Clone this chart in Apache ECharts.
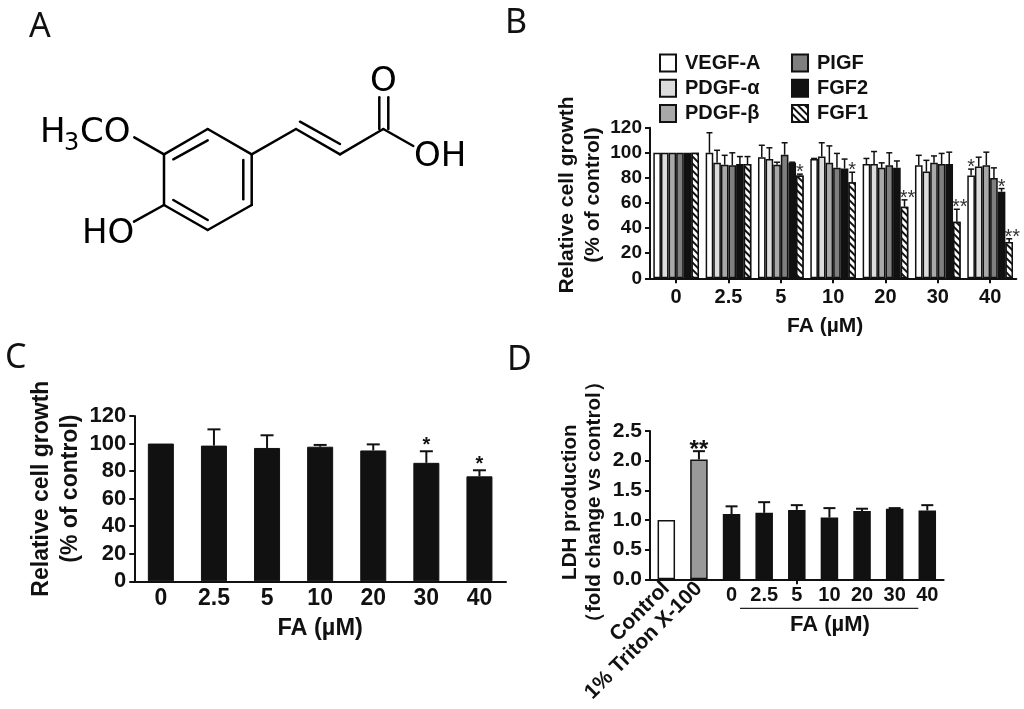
<!DOCTYPE html>
<html>
<head>
<meta charset="utf-8">
<title>FA</title>
<script src="https://cdn.jsdelivr.net/npm/echarts@6/dist/echarts.min.js"></script>
<style>
html,body{margin:0;padding:0;background:#fff}
#main{width:1024px;height:709px}
</style>
</head>
<body>
<div id="main"></div>
<script>
var doses=['0','2.5','5','10','20','30','40'];

// panel B
var bNames=['VEGF-A','PDGF-α','PDGF-β','PIGF','FGF2','FGF1'];
var bVegf=[100,100,96.5,95,91,90,82];
var bVegfErr=[null,116,106,95.5,95.5,98,87];
var bVegfStar=['','','','','','','*'];
var bPdgfa=[100,92,95,97,91,85,89];
var bPdgfaErr=[null,102,104,108,101,94,96.5];
var bPdgfb=[100,90.5,90.5,92,88,92,90];
var bPdgfbErr=[null,98,92.5,105.5,92,97.5,100.5];
var bPigf=[100,90,98.5,88,90,91,80];
var bPigfErr=[null,100,108,99.5,100,99.5,88];
var bFgf2=[100,91,92,87.5,88,91,69];
var bFgf2Err=[null,97,92.5,95,93.5,100.5,71.5];
var bFgf2Star=['','','','','','','*'];
var bFgf1=[100,91,82,76.5,57,45,29];
var bFgf1Err=[null,97,83,84.5,62.5,55,31.5];
var bFgf1Star=['','','*','*','**','**','**'];

// panel C
var cVals=[100,98.5,96.8,97.7,95,86,76.2];
var cErr=[null,110.3,106,99,99.4,94.4,80.6];
var cStar=['','','','','','*','*'];

// panel D
var dCats=['Control','1% Triton X-100'];
var dVals=[1,2.02,1.1,1.12,1.17,1.04,1.15,1.19,1.16];
var dErr=[null,2.16,1.23,1.3,1.25,1.2,1.19,1.2,1.25];
var dStar=['','**','','','','','','',''];

// panel A, ferulic acid
var bonds=[
  [207.7,129,251.7,154.3],[251.7,154.3,251.7,205],[251.7,205,207.7,230],
  [207.7,230,164,205],[164,205,164,154.3],[164,154.3,207.7,129],
  [173.3,159.3,207.7,140.3],[243.3,160,243.3,199.3],[173.3,200,207.7,220],
  [251.7,154.3,296,129],[296,129,340,154.3],[340,154.3,383.3,129],[300,121.7,340,144],
  [379.3,129,379.3,97.3],[388.3,129,388.3,97.3],[383.3,129,413.3,146],
  [164,154.3,134.3,137.3],[164,205,134,221.7]
];
var atoms=[
  ['O',370,99,34],['OH',414,174,34],['H',40,150,34],['3',64,156,24],['CO',80,150,34],['HO',82,251,34]
];
var letters=[['A',29,44],['B',505,40],['C',5,375],['D',507,377]];

var black='#111';
var sansBold='"Liberation Sans",Arial,sans-serif';

function axisBase(gridIndex,fs){
  return {
    gridIndex:gridIndex,
    axisLine:{show:true,lineStyle:{color:black,width:2}},
    axisTick:{show:true,length:5,lineStyle:{color:black,width:2}},
    axisLabel:{color:black,fontFamily:sansBold,fontWeight:'bold',fontSize:fs},
    splitLine:{show:false},
    nameTextStyle:{color:black,fontFamily:sansBold,fontWeight:'bold'}
  };
}
function yAxisOf(gridIndex,fs,max,step,name,nfs,gap,lh,shift,fmt){
  var a=axisBase(gridIndex,fs);
  a.type='value';a.min=0;a.max=max;a.interval=step;
  a.axisLabel.margin=8;
  if(fmt)a.axisLabel.formatter=fmt;
  a.name=name;a.nameLocation='middle';a.nameGap=gap;a.nameRotate=90;
  a.nameTextStyle.fontSize=nfs;a.nameTextStyle.lineHeight=lh;a.nameTextStyle.padding=[0,0,0,shift];
  return a;
}
function xAxisOf(gridIndex,cats,fs,margin,tick,name,nfs,gap,shift){
  var a=axisBase(gridIndex,fs);
  a.type='category';a.data=cats;a.position='bottom';
  a.axisLabel.margin=margin;a.axisLabel.interval=0;
  a.axisTick.show=tick;a.axisTick.alignWithLabel=true;
  if(name){
    a.name=name;a.nameLocation='middle';a.nameGap=gap;
    a.nameTextStyle.fontSize=nfs;a.nameTextStyle.padding=[0,shift,0,0];
  }
  return a;
}
// upper error bar + asterisks, offset is in fractions of the band
function errSeries(ax,ay,means,tops,stars,o){
  var data=[];
  for(var i=0;i<means.length;i++)data.push([i,means[i],tops[i]]);
  return {
    type:'custom',xAxisIndex:ax,yAxisIndex:ay,data:data,z:1,
    silent:true,
    encode:{x:0,y:1},
    renderItem:function(params,api){
      var idx=api.value(0),top=api.value(2),mean=api.value(1);
      var band=api.size([1,0])[0];
      var ch=[];
      var base=api.coord([idx,mean]);
      var x=base[0]+(o.offset||0)*band;
      var yTop=base[1];
      if(!isNaN(top)&&top!==null){
        yTop=api.coord([idx,top])[1];
        ch.push({type:'line',shape:{x1:x,y1:base[1],x2:x,y2:yTop},style:{stroke:black,lineWidth:o.lw}});
        ch.push({type:'line',shape:{x1:x-o.cap,y1:yTop,x2:x+o.cap,y2:yTop},style:{stroke:black,lineWidth:o.lw}});
      }
      var s=stars&&stars[params.dataIndex];
      if(s){
        ch.push({type:'text',style:{x:x+(s.length>1?o.dbl:0),y:yTop-o.starUp,text:s,fill:o.starColor,
          font:o.starFont,align:'center',verticalAlign:'middle'}});
      }
      return {type:'group',children:ch};
    }
  };
}

var bColors=['#fff','#dcdcdc','#a9a9a9','#7f7f7f',black,'#fff'];
var bData=[bVegf,bPdgfa,bPdgfb,bPigf,bFgf2,bFgf1];
var bTops=[bVegfErr,bPdgfaErr,bPdgfbErr,bPigfErr,bFgf2Err,bFgf1Err];
var bStars=[bVegfStar,null,null,null,bFgf2Star,bFgf1Star];
var hatch={symbol:'rect',symbolSize:1,rotation:Math.PI/4,dashArrayX:[[1,0]],dashArrayY:[2,3],color:black,backgroundColor:'#fff'};

var series=[];
var barFrac=0.873/6;
bData.forEach(function(vals,i){
  var st={color:bColors[i],borderColor:black,borderWidth:1.5};
  if(i==5)st.decal=hatch;
  series.push({name:bNames[i],type:'bar',xAxisIndex:0,yAxisIndex:0,data:vals,
    barGap:0,barCategoryGap:'12.7%',itemStyle:st,z:2});
});
bData.forEach(function(vals,i){
  series.push(errSeries(0,0,vals,bTops[i],bStars[i],{offset:(i-2.5)*barFrac,lw:1.5,cap:3,dbl:3,starUp:1.5,
    starColor:'#333',starFont:'20px '+sansBold}));
});
series.push({name:'C',type:'bar',xAxisIndex:1,yAxisIndex:1,data:cVals,barWidth:26,
  itemStyle:{color:black,borderColor:black,borderWidth:1},z:2});
series.push(errSeries(1,1,cVals,cErr,cStar,{lw:2,cap:6.5,dbl:0,starUp:6,starColor:black,starFont:'bold 20px '+sansBold}));
series.push({name:'D',type:'bar',xAxisIndex:2,yAxisIndex:2,data:dVals.map(function(v,i){
    return {value:v,itemStyle:{color:i==0?'#fff':(i==1?'#999':black)}};
  }),barWidth:17.5,itemStyle:{borderColor:black,borderWidth:1.5},z:2});
series.push(errSeries(2,2,dVals,dErr,dStar,{lw:2,cap:6,dbl:0,starUp:1,starColor:black,starFont:'bold 24px '+sansBold}));

var graphics=[];
bonds.forEach(function(b){
  graphics.push({type:'line',silent:true,shape:{x1:b[0],y1:b[1],x2:b[2],y2:b[3]},style:{stroke:'#000',lineWidth:2.5,lineCap:'round'}});
});
atoms.forEach(function(t){
  graphics.push({type:'text',silent:true,style:{x:t[1],y:t[2],text:t[0],fill:'#000',verticalAlign:'bottom',
    font:t[3]+'px "DejaVu Sans"'}});
});
letters.forEach(function(t){
  graphics.push({type:'text',silent:true,style:{x:t[1],y:t[2],text:t[0],fill:'#111',verticalAlign:'bottom',
    font:'34px "Noto Sans"'}});
});
graphics.push({type:'line',silent:true,shape:{x1:740,y1:608.3,x2:918.3,y2:608.3},style:{stroke:'#222',lineWidth:1.2}});
graphics.push({type:'text',silent:true,style:{x:830,y:625,text:'FA (µM)',fill:black,align:'center',verticalAlign:'middle',
  font:'bold 22px '+sansBold}});

var legendBase={icon:'rect',orient:'vertical',padding:0,itemWidth:16,itemHeight:17,itemGap:5.3,
  textStyle:{color:black,fontFamily:sansBold,fontWeight:'bold',fontSize:20,padding:[0,0,0,4]},
  itemStyle:{borderColor:black,borderWidth:2},selectedMode:false};

var option={
  animation:false,
  backgroundColor:'#fff',
  grid:[
    {left:650,top:127.7,width:366.3,height:150.6},
    {left:134.3,top:416,width:371.7,height:165.3},
    {left:650,top:431,width:293.6,height:148.3}
  ],
  legend:[
    Object.assign({left:659,top:53,data:bNames.slice(0,3)},legendBase),
    Object.assign({left:791,top:53,data:bNames.slice(3)},legendBase)
  ],
  xAxis:[
    xAxisOf(0,doses,20,9,true,'FA (µM)',21,37,16),
    xAxisOf(1,doses,23,6,false,'FA (µM)',23.5,35,0),
    (function(){
      var a=xAxisOf(2,['',''].concat(doses),20,6,true);
      a.axisTick.interval=function(i){return i==4};
      return a;
    })(),
    (function(){
      var a=xAxisOf(2,dCats.concat(doses.map(function(){return ''})),21,6,false);
      a.axisLabel.rotate=45;
      a.axisLine.show=false;
      return a;
    })()
  ],
  yAxis:[
    yAxisOf(0,19,120,20,'Relative cell growth\n(% of control)',21,39,26,16),
    yAxisOf(1,22,120,20,'Relative cell growth\n(% of control)',23,48,29.3,20),
    yAxisOf(2,21,2.5,0.5,'LDH production\n（fold change vs control）',20.6,44,24,6,function(v){return v.toFixed(1)})
  ],
  graphic:graphics,
  series:series
};

var myChart=echarts.init(document.getElementById('main'));
myChart.setOption(option);
</script>
</body>
</html>
